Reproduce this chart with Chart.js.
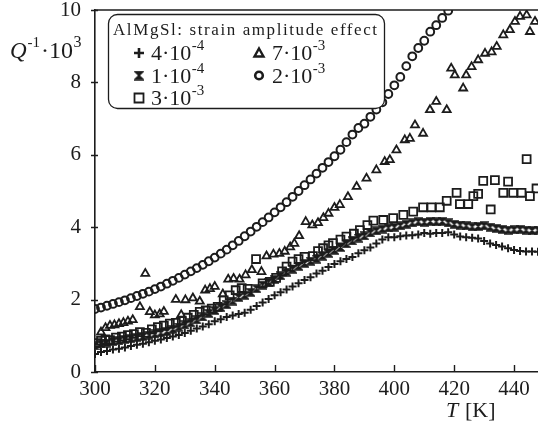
<!DOCTYPE html>
<html>
<head>
<meta charset="utf-8">
<script src="https://cdn.jsdelivr.net/npm/chart.js@4.4.1/dist/chart.umd.min.js"></script>
<style>
html, body { margin: 0; padding: 0; background: #fff; }
#wrap { width: 538px; height: 424px; }
</style>
</head>
<body>
<div id="wrap"><canvas id="grafico" width="538" height="424"></canvas></div>
<script>
// Datos: Q^-1·10^3 frente a T [K]

// marcas de los ejes
const ticksX = [300, 320, 340, 360, 380, 400, 420, 440];
const ticksY = [0, 2, 4, 6, 8, 10];

// amplitud 4·10^-4 (cruces)
const tCruz = [300,302,304,306,308,310,312,314,316,318,320,322,324,326,328,330,332,334,336,338,340,342,344,346,348,350,352,354,356,358,360,362,364,366,368,370,372,374,376,378,380,382,384,386,388,390,392,394,396,398,400,402,404,406,408,410,412,414,416,418,420,422,424,426,428,430,432,434,436,438,440,442,444,446,448];
const qCruz = [0.50,0.55,0.58,0.62,0.64,0.68,0.72,0.75,0.78,0.82,0.86,0.90,0.94,0.98,1.02,1.08,1.14,1.20,1.26,1.32,1.40,1.46,1.52,1.56,1.60,1.64,1.72,1.82,1.92,2.02,2.12,2.20,2.28,2.36,2.45,2.54,2.62,2.72,2.80,2.90,2.98,3.06,3.12,3.18,3.28,3.36,3.44,3.55,3.66,3.72,3.72,3.75,3.77,3.78,3.80,3.84,3.82,3.84,3.84,3.86,3.80,3.74,3.72,3.71,3.69,3.62,3.55,3.51,3.47,3.42,3.37,3.34,3.33,3.33,3.32];

// amplitud 1·10^-4 (relojes de arena)
const tReloj = [300,302,304,306,308,310,312,314,316,318,320,322,324,326,328,330,332,334,336,338,340,342,344,346,348,350,352,354,356,358,360,362,364,366,368,370,372,374,376,378,380,382,384,386,388,390,392,394,396,398,400,402,404,406,408,410,412,414,416,418,420,422,424,426,428,430,432,434,436,438,440,442,444,446,448];
const qReloj = [0.72,0.78,0.80,0.84,0.86,0.90,0.92,0.95,0.98,1.02,1.05,1.08,1.12,1.18,1.24,1.30,1.36,1.44,1.52,1.62,1.70,1.78,1.86,1.96,2.06,2.12,2.20,2.30,2.40,2.48,2.56,2.66,2.76,2.84,2.92,3.00,3.06,3.12,3.20,3.28,3.36,3.44,3.54,3.62,3.70,3.76,3.84,3.90,3.95,3.98,4.00,4.04,4.08,4.12,4.15,4.14,4.16,4.15,4.16,4.12,4.08,4.06,4.04,4.01,4.02,4.04,4.00,3.97,3.94,3.92,3.93,3.94,3.92,3.91,3.92];

// amplitud 3·10^-3 (cuadrados)
const tCuad = [300.5,302,303.5,305,307,309,311,313,315,317,319,321,323,325,327,329,331,333,335,337,339,341,343,345,347,349,351,353.8,356,358.4,360.5,362.5,364,366,368,370,372.8,374.5,376.2,378,379.5,382,384,386.5,388.5,391,393,396.3,399.6,403,406.3,409.6,412.4,415.2,417.5,420.8,421.9,424.7,426.4,428,429.7,432.2,433.6,436.4,438,439.7,442.5,444.2,445.3,447.5];
const qCuad = [0.80,0.86,0.90,0.88,0.95,0.98,1.02,1.05,1.10,1.08,1.18,1.24,1.28,1.34,1.36,1.42,1.50,1.58,1.66,1.70,1.75,1.80,1.98,2.12,2.26,2.32,2.30,3.12,2.45,2.49,2.60,2.78,2.91,3.05,3.12,3.18,3.20,3.34,3.42,3.50,3.56,3.66,3.74,3.82,3.92,4.06,4.18,4.20,4.25,4.34,4.43,4.55,4.55,4.55,4.73,4.95,4.64,4.64,4.86,4.92,5.28,4.49,5.30,4.95,5.26,4.95,4.95,5.88,4.86,5.07];

// amplitud 7·10^-3 (triangulos)
const tTri = [302,303.5,305,306.5,308,309.5,311,312.6,315,316.8,318.3,320,321.6,323,327,328.8,330.2,332.7,335,336.8,338.4,340,342.7,344.5,346.3,348.3,350.3,352.4,355.6,357.3,359.6,361.6,363.4,365.2,366.6,368.2,370.4,372.6,374.5,376.3,378,380,381.8,384.5,387.4,390.7,394,396.8,398.5,400.7,403.5,405.2,406.9,409.6,411.9,414,417.5,419,420.2,423,424,425.8,428,430.3,432.5,434.2,436.4,438.6,440.3,442,444.2,445.3,447];
const qTri = [1.10,1.22,1.28,1.30,1.33,1.36,1.40,1.44,1.80,2.72,1.66,1.57,1.60,1.67,2.00,1.58,1.99,2.04,1.95,2.26,2.30,2.36,2.15,2.56,2.58,2.56,2.68,2.82,2.77,3.20,3.25,3.27,3.33,3.45,3.55,3.76,4.15,4.06,4.12,4.26,4.38,4.54,4.62,4.84,5.12,5.35,5.58,5.81,5.86,6.13,6.41,6.45,6.82,6.59,7.24,7.47,7.24,8.39,8.20,7.84,8.20,8.43,8.62,8.80,8.84,8.99,9.31,9.45,9.68,9.82,9.86,9.40,9.68];

// amplitud 2·10^-3 (circulos)
const tCirc = [300,302,304,306,308,310,312,314,316,318,320,322,324,326,328,330,332,334,336,338,340,342,344,346,348,350,352,354,356,358,360,362,364,366,368,370,372,374,376,378,380,382,384,386,388,390,392,394,396,398,400,402,404,406,408,410,412,414,416,418];
const qCirc = [1.74,1.78,1.83,1.88,1.93,1.98,2.04,2.10,2.16,2.22,2.29,2.36,2.44,2.52,2.60,2.69,2.78,2.87,2.96,3.06,3.16,3.27,3.38,3.50,3.62,3.75,3.88,4.01,4.14,4.27,4.41,4.55,4.69,4.84,5.00,5.16,5.32,5.48,5.64,5.80,5.96,6.14,6.35,6.56,6.74,6.86,7.05,7.25,7.45,7.68,7.92,8.15,8.45,8.72,8.95,9.15,9.40,9.58,9.78,9.98];

// Etiquetas de la leyenda
const etiquetas = [
    { mant: '4', exp: '-4', marca: 'cruz' },
    { mant: '1', exp: '-4', marca: 'reloj' },
    { mant: '3', exp: '-3', marca: 'cuad' },
    { mant: '7', exp: '-3', marca: 'tri' },
    { mant: '2', exp: '-3', marca: 'circ' }
];
const tituloLeyenda = 'AlMgSl: strain amplitude effect';

const NEGRO = '#1c1c1c';
const SERIF = '"Liberation Serif", "DejaVu Serif", serif';

function puntos(xs, ys) {
    return xs.map((x, i) => ({ x: x, y: ys[i] }));
}

// Marcador "reloj de arena" como imagen
function crearReloj(tam, color) {
    const c = document.createElement('canvas');
    c.width = tam;
    c.height = tam;
    const g = c.getContext('2d');
    g.fillStyle = color;
    g.strokeStyle = color;
    g.lineWidth = 1.4;
    g.beginPath();
    g.moveTo(0.7, 0.9);
    g.lineTo(tam - 0.7, 0.9);
    g.lineTo(tam / 2, tam / 2);
    g.closePath();
    g.moveTo(0.7, tam - 0.9);
    g.lineTo(tam - 0.7, tam - 0.9);
    g.lineTo(tam / 2, tam / 2);
    g.closePath();
    g.fill();
    g.stroke();
    return c;
}
const imgReloj = crearReloj(9, NEGRO);

// Dibujo de marcadores para la leyenda
function dibujarMarca(ctx, tipo, x, y) {
    ctx.save();
    ctx.strokeStyle = NEGRO;
    ctx.fillStyle = NEGRO;
    ctx.beginPath();
    if (tipo === 'cruz') {
        ctx.lineWidth = 2.6;
        ctx.moveTo(x - 5, y); ctx.lineTo(x + 5, y);
        ctx.moveTo(x, y - 5); ctx.lineTo(x, y + 5);
        ctx.stroke();
    } else if (tipo === 'reloj') {
        ctx.drawImage(crearReloj(10, NEGRO), x - 5, y - 5);
    } else if (tipo === 'cuad') {
        ctx.lineWidth = 1.8;
        ctx.rect(x - 4.5, y - 4.5, 9, 9);
        ctx.stroke();
    } else if (tipo === 'tri') {
        ctx.lineWidth = 2.4;
        ctx.moveTo(x, y - 4.5);
        ctx.lineTo(x + 4.5, y + 3.5);
        ctx.lineTo(x - 4.5, y + 3.5);
        ctx.closePath();
        ctx.stroke();
    } else if (tipo === 'circ') {
        ctx.lineWidth = 2.6;
        ctx.arc(x, y, 3.8, 0, Math.PI * 2);
        ctx.stroke();
    }
    ctx.restore();
}

// texto con exponente: "m·10" + superindice
function textoCientifico(ctx, x, y, base, exp, tam, tamExp, subida) {
    ctx.font = tam + 'px ' + SERIF;
    ctx.fillText(base, x, y);
    const w = ctx.measureText(base).width;
    ctx.font = tamExp + 'px ' + SERIF;
    ctx.fillText(exp, x + w + 0.5, y - subida);
    return x + w + 0.5 + ctx.measureText(exp).width;
}

const decoracion = {
    id: 'decoracion',
    afterDraw(chart) {
        const ctx = chart.ctx;
        const area = chart.chartArea;
        const sx = chart.scales.x;
        const sy = chart.scales.y;
        ctx.save();
        ctx.strokeStyle = NEGRO;
        ctx.fillStyle = NEGRO;

        // linea superior del marco
        ctx.lineWidth = 1.6;
        ctx.beginPath();
        ctx.moveTo(area.left, area.top);
        ctx.lineTo(area.right, area.top);
        ctx.stroke();

        // marcas del eje x hacia dentro
        ctx.lineWidth = 1.4;
        ctx.beginPath();
        sx.ticks.forEach(t => {
            const px = Math.round(sx.getPixelForValue(t.value)) + 0.5;
            ctx.moveTo(px, area.bottom);
            ctx.lineTo(px, area.bottom - 7);
        });
        // marcas del eje y
        sy.ticks.forEach(t => {
            const py = Math.round(sy.getPixelForValue(t.value)) + 0.5;
            ctx.moveTo(area.left - 4, py);
            ctx.lineTo(area.left + 3, py);
        });
        ctx.stroke();

        // leyenda
        ctx.lineWidth = 1.3;
        ctx.beginPath();
        ctx.roundRect(108.5, 14.5, 276, 94, 9);
        ctx.fillStyle = '#fff';
        ctx.fill();
        ctx.stroke();
        ctx.fillStyle = NEGRO;

        ctx.textBaseline = 'alphabetic';
        ctx.textAlign = 'left';
        ctx.font = '17px ' + SERIF;
        ctx.letterSpacing = '0px';
        const anchoTitulo = ctx.measureText(tituloLeyenda).width;
        const esp = (264 - anchoTitulo) / (tituloLeyenda.length - 1);
        ctx.letterSpacing = esp.toFixed(2) + 'px';
        ctx.fillText(tituloLeyenda, 113, 35);
        ctx.letterSpacing = '0px';

        const columnas = [
            { xm: 139, xt: 151, filas: [0, 1, 2] },
            { xm: 259, xt: 272, filas: [3, 4] }
        ];
        const baseY = [60, 82.5, 105];
        columnas.forEach(col => {
            col.filas.forEach((idx, fila) => {
                const e = etiquetas[idx];
                dibujarMarca(ctx, e.marca, col.xm, baseY[fila] - 7);
                textoCientifico(ctx, col.xt, baseY[fila], e.mant + '\u00b710', e.exp, 22, 15, 10);
            });
        });

        // titulo eje y: Q^-1·10^3
        ctx.font = 'italic 23px ' + SERIF;
        ctx.fillText('Q', 10, 58);
        let x = 10 + ctx.measureText('Q').width + 1;
        ctx.font = '15px ' + SERIF;
        ctx.fillText('-1', x, 47);
        x += ctx.measureText('-1').width + 1;
        textoCientifico(ctx, x, 58, '\u00b710', '3', 24, 16, 11);

        // titulo eje x: T [K]
        ctx.font = 'italic 22px ' + SERIF;
        ctx.fillText('T', 446, 417);
        ctx.font = '22px ' + SERIF;
        ctx.fillText('[K]', 465, 417);

        ctx.restore();
    }
};

const comun = { showLine: false, borderColor: NEGRO, backgroundColor: 'rgba(0,0,0,0)' };

new Chart(document.getElementById('grafico').getContext('2d'), {
    type: 'scatter',
    data: {
        datasets: [
            Object.assign({ label: '4e-4', data: puntos(tCruz, qCruz), pointStyle: 'cross', pointRadius: 4, borderWidth: 2 }, comun),
            Object.assign({ label: '1e-4', data: puntos(tReloj, qReloj), pointStyle: imgReloj, pointRadius: 4.5 }, comun),
            Object.assign({ label: '3e-3', data: puntos(tCuad, qCuad), pointStyle: 'rect', pointRadius: 5.6, borderWidth: 1.8 }, comun),
            Object.assign({ label: '7e-3', data: puntos(tTri, qTri), pointStyle: 'triangle', pointRadius: 4.6, borderWidth: 1.8 }, comun),
            Object.assign({ label: '2e-3', data: puntos(tCirc, qCirc), pointStyle: 'circle', pointRadius: 3.9, borderWidth: 2 }, comun)
        ]
    },
    options: {
        responsive: false,
        animation: false,
        devicePixelRatio: 1,
        layout: { autoPadding: false, padding: { top: 10, right: 0, left: 0, bottom: 0 } },
        plugins: { legend: { display: false }, tooltip: { enabled: false } },
        scales: {
            x: {
                type: 'linear',
                min: 300,
                max: 448,
                grid: { display: false },
                border: { display: true, color: NEGRO, width: 1.6 },
                ticks: {
                    padding: -3,
                    color: NEGRO,
                    maxRotation: 0,
                    autoSkip: false,
                    font: { family: SERIF, size: 21 }
                },
                afterBuildTicks(scale) {
                    scale.ticks = ticksX.map(v => ({ value: v }));
                },
                afterFit(scale) {
                    scale.height = 52;
                    scale.paddingLeft = 0;
                    scale.paddingRight = 0;
                }
            },
            y: {
                type: 'linear',
                min: 0,
                max: 10,
                grid: { display: false },
                border: { display: true, color: NEGRO, width: 1.6 },
                ticks: {
                    padding: 6,
                    color: NEGRO,
                    autoSkip: false,
                    font: { family: SERIF, size: 21 }
                },
                afterBuildTicks(scale) {
                    scale.ticks = ticksY.map(v => ({ value: v }));
                },
                afterFit(scale) {
                    scale.width = 95;
                    scale.paddingTop = 0;
                    scale.paddingBottom = 0;
                }
            }
        }
    },
    plugins: [decoracion]
});
</script>
</body>
</html>
